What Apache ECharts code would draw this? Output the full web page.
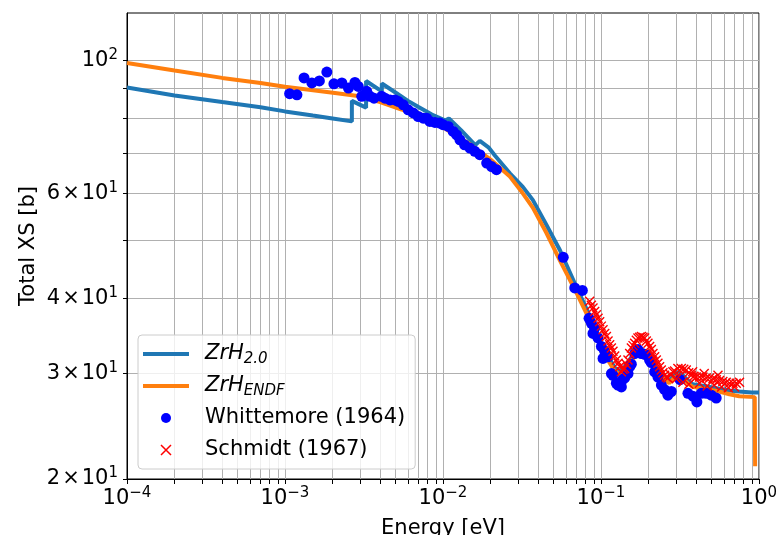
<!DOCTYPE html>
<html><head><meta charset="utf-8">
<script src="https://cdn.jsdelivr.net/npm/echarts@6/dist/echarts.min.js"></script>
<style>html,body{margin:0;padding:0;background:#fff}#c{width:778px;height:535px}</style>
</head><body><div id="c"></div>
<script>
// ---- tick values ----
const xTickValues = [0.0001,0.0002,0.0003,0.0004,0.0005,0.0006,0.0007,0.0008,0.0009,
  0.001,0.002,0.003,0.004,0.005,0.006,0.007,0.008,0.009,
  0.01,0.02,0.03,0.04,0.05,0.06,0.07,0.08,0.09,
  0.1,0.2,0.3,0.4,0.5,0.6,0.7,0.8,0.9,1];
const xLabelValues = [0.0001,0.001,0.01,0.1,1];
const yTickValues = [20,30,40,50,60,70,80,90,100];
const yLabelValues = [20,30,40,60,100];

// ---- series ----
const zrh20 = [[1e-4,90.1],[2e-4,87.4],[4e-4,85.2],[7e-4,83.5],[1e-3,82.2],[1.5e-3,80.9],[2e-3,80.0],[2.65e-3,79.1],[2.65e-3,85.6],[3.26e-3,83.4],[3.26e-3,92.4],[4.1e-3,88.8],[4.1e-3,91.5],[5e-3,88.4],[6e-3,85.6],[7e-3,83.6],[8.5e-3,81.2],[1.03e-2,79.4],[1.09e-2,80.0],[1.3e-2,76.5],[1.6e-2,72.2],[1.71e-2,73.4],[1.94e-2,71.6],[2.13e-2,69.4],[2.65e-2,64.8],[3.2e-2,61.5],[3.7e-2,58.5],[4.5e-2,53.2],[5.5e-2,48.2],[7e-2,41.8],[8.47e-2,37.5],[9.35e-2,35.3],[0.103,33.2],[0.113,31.8],[0.122,30.7],[0.131,30.3],[0.14,30.7],[0.155,31.9],[0.175,33.0],[0.19,32.7],[0.21,31.4],[0.24,30.0],[0.27,29.2],[0.29,29.8],[0.31,30.2],[0.33,29.8],[0.36,29.1],[0.38,28.8],[0.45,28.6],[0.56,28.3],[0.65,28.1],[0.75,28.0],[0.9,27.9],[1.0,27.9]];

const zrhEndf = [[1e-4,99.0],[2e-4,96.2],[4e-4,93.5],[7e-4,91.7],[1e-3,90.4],[2.07e-3,88.2],[2.98e-3,87.1],[4e-3,85.2],[5.47e-3,82.8],[7e-3,80.6],[1e-2,77.3],[1.5e-2,72.3],[2e-2,68.3],[2.65e-2,64.0],[3.2e-2,60.0],[3.7e-2,56.8],[4.5e-2,51.6],[5.48e-2,46.4],[7e-2,40.9],[8.09e-2,37.8],[9.35e-2,34.6],[0.103,32.6],[0.113,31.3],[0.122,30.3],[0.131,29.9],[0.14,30.3],[0.155,31.5],[0.175,32.6],[0.19,32.3],[0.21,31.0],[0.24,29.7],[0.27,28.9],[0.29,29.5],[0.31,29.8],[0.33,29.4],[0.36,28.8],[0.38,28.5],[0.45,28.3],[0.56,28.0],[0.65,27.7],[0.75,27.5],[0.94,27.4],[0.945,21.0]];

const whittemore = [[1.07e-3,88.0],[1.19e-3,87.6],[1.32e-3,93.5],[1.48e-3,91.7],[1.65e-3,92.4],[1.84e-3,95.6],[2.04e-3,91.4],[2.29e-3,91.7],[2.52e-3,89.9],[2.77e-3,91.9],[2.91e-3,90.5],[3.06e-3,87.1],[3.29e-3,88.8],[3.45e-3,87.1],[3.66e-3,86.5],[4.09e-3,87.1],[4.29e-3,86.5],[4.62e-3,85.9],[4.97e-3,85.9],[5.21e-3,85.4],[5.60e-3,84.3],[6.02e-3,82.7],[6.48e-3,81.7],[6.97e-3,80.6],[7.50e-3,80.1],[7.88e-3,80.1],[8.26e-3,79.1],[8.89e-3,78.8],[9.56e-3,78.6],[1.00e-2,78.1],[1.08e-2,77.6],[1.16e-2,76.1],[1.22e-2,75.1],[1.28e-2,73.7],[1.37e-2,72.3],[1.48e-2,71.4],[1.59e-2,70.5],[1.71e-2,69.6],[1.89e-2,67.4],[2.03e-2,66.5],[2.18e-2,65.7],
[5.77e-2,46.9],[6.82e-2,41.7],[7.62e-2,41.3],
[8.40e-2,37.1],[8.70e-2,36.4],[8.9e-2,35.0],[9.12e-2,35.7],[9.57e-2,34.4],[0.1006,33.3],[0.103,31.8],[0.1055,32.7],[0.1107,32.0],[0.1164,30.0],[0.119,29.8],[0.1251,28.9],[0.128,28.7],[0.1346,28.5],[0.137,29.3],[0.1413,29.5],[0.1483,30.0],[0.152,30.8],[0.1556,31.1],[0.1633,32.4],[0.1714,32.9],[0.180,32.4],[0.189,32.3],[0.195,32.2],[0.203,31.6],[0.208,31.3],[0.2185,30.2],[0.2293,29.6],[0.241,28.7],[0.2527,28.2],[0.2652,27.6],[0.2786,28.0],[0.3165,29.3],[0.355,27.8],[0.3815,27.5],[0.4045,26.9],[0.4315,27.8],[0.4637,27.8],[0.499,27.6],[0.536,27.3]];

const schmidt = [[0.0848,39.6],[0.0869,39.0],[0.0890,38.6],[0.0912,38.1],[0.0935,37.6],[0.0958,37.1],[0.0981,36.6],[0.1005,36.0],[0.1030,35.5],[0.1056,35.0],[0.1082,34.6],[0.1108,34.0],[0.1135,33.5],[0.1163,33.1],[0.1191,32.7],[0.1221,32.1],[0.1251,31.6],[0.1282,31.2],[0.1313,30.8],[0.1346,30.2],[0.1378,30.5],[0.1412,30.6],[0.1447,31.1],[0.1482,31.6],[0.1519,32.4],[0.1557,33.1],[0.1595,33.4],[0.1633,33.7],[0.1673,34.1],[0.1714,34.4],[0.1757,34.5],[0.1800,34.6],[0.1844,34.5],[0.1889,34.4],[0.1935,34.0],[0.1982,33.7],[0.2032,33.3],[0.2083,32.9],[0.2133,32.4],[0.2185,32.0],[0.2239,31.6],[0.2293,31.2],[0.2350,30.8],[0.2408,30.4],[0.2467,30.1],[0.2527,29.8],[0.2589,29.6],[0.2652,29.5],[0.2750,29.9],[0.2851,30.2],[0.2923,30.3],[0.3067,30.6],[0.3223,30.6],[0.3340,30.5],[0.3465,30.4],[0.3590,30.1],[0.3727,29.8],[0.3870,29.7],[0.4009,29.6],[0.4200,29.6],[0.4413,29.6],[0.4640,29.5],[0.4865,29.5],[0.5110,29.4],[0.5364,29.3],[0.5630,29.2],[0.5904,29.1],[0.6200,29.0],[0.6510,28.9],[0.6840,28.9],[0.7177,28.9],[0.7527,29.0],
[0.30,29.4],[0.33,29.0],[0.36,28.8],[0.38,30.2],[0.42,28.9],[0.45,30.0],[0.47,28.6],[0.52,28.7],[0.55,29.8],[0.58,28.5],[0.64,28.4],[0.70,28.5]];

const FONT = 'DejaVu Sans';
const chart = echarts.init(document.getElementById('c'), null, {renderer: 'canvas'});
const supRich = {
  b: {fontFamily: FONT, fontSize: 21, color: '#000', lineHeight: 26},
  x: {fontFamily: FONT, fontSize: 21, color: '#000', lineHeight: 26, padding: [0, 2, 0, 2]},
  s: {fontFamily: FONT, fontSize: 15, color: '#000', lineHeight: 15, verticalAlign: 'top'}
};
const legendNames = {
  'ZrH2.0': '{i|ZrH}{sub|2.0}',
  'ZrHENDF': '{i|ZrH}{sub|ENDF}'
};
chart.setOption({
  animation: false,
  backgroundColor: '#fff',
  grid: {left: 127, right: 19, top: 13, bottom: 56, show: true, borderColor: '#000', borderWidth: 1,
    backgroundColor: 'rgba(0,0,0,0)', containLabel: false, outerBoundsMode: 'none'},
  xAxis: {
    type: 'log', logBase: 10, min: 0.0001, max: 1,
    name: 'Energy [eV]', nameLocation: 'middle', nameGap: 39, nameMoveOverlap: false,
    nameTextStyle: {fontFamily: FONT, fontSize: 21, color: '#000'},
    axisLine: {show: true, lineStyle: {color: '#000', width: 1}},
    axisTick: {show: true, inside: false, length: 5, lineStyle: {color: '#000', width: 1}, customValues: xTickValues},
    axisLabel: {customValues: xLabelValues, margin: 7, rich: supRich,
      formatter: function (v) { const e = Math.round(Math.log10(v)); return '{b|10}{s|' + (e < 0 ? '\u2212' + (-e) : e) + '}'; }},
    splitLine: {show: true, lineStyle: {color: '#b0b0b0', width: 1}},
    minorTick: {show: false}, minorSplitLine: {show: false}
  },
  yAxis: {
    type: 'log', logBase: 10, min: 20, max: 120,
    name: 'Total XS [b]', nameLocation: 'middle', nameGap: 88, nameRotate: 90, nameMoveOverlap: false,
    nameTextStyle: {fontFamily: FONT, fontSize: 21, color: '#000'},
    axisLine: {show: true, lineStyle: {color: '#000', width: 1}},
    axisTick: {show: true, inside: false, length: 4, lineStyle: {color: '#000', width: 1}, customValues: yTickValues},
    axisLabel: {customValues: yLabelValues, margin: 9, rich: supRich,
      formatter: function (v) {
        const e = Math.floor(Math.log10(v) + 1e-9); const m = Math.round(v / Math.pow(10, e));
        return m === 1 ? '{b|10}{s|' + e + '}' : '{b|' + m + '}{x|\u00d7}{b|10}{s|' + e + '}';
      }},
    splitLine: {show: true, lineStyle: {color: '#b0b0b0', width: 1}},
    minorTick: {show: false}, minorSplitLine: {show: false}
  },
  legend: {
    orient: 'vertical', left: 138, top: 335,
    padding: [6, 10, 6, 5], itemGap: 6, itemWidth: 46, itemHeight: 10,
    backgroundColor: 'rgba(255,255,255,0.8)', borderColor: '#cccccc', borderWidth: 1, borderRadius: 4,
    textStyle: {fontFamily: FONT, fontSize: 21, color: '#000', lineHeight: 26, padding: [0, 0, 0, 11],
      rich: {
        i: {fontFamily: FONT, fontSize: 21, fontStyle: 'italic', color: '#000', lineHeight: 26},
        sub: {fontFamily: FONT, fontSize: 15, fontStyle: 'italic', color: '#000', lineHeight: 15, verticalAlign: 'bottom'}
      }},
    formatter: function (n) { return legendNames[n] || n; },
    data: [
      {name: 'ZrH2.0', icon: 'path://M0,0H46V4H0Z'},
      {name: 'ZrHENDF', icon: 'path://M0,0H46V4H0Z'},
      {name: 'Whittemore (1964)', icon: 'circle'},
      {name: 'Schmidt (1967)', icon: 'path://M0,0L10,10M10,0L0,10', itemStyle: {color: 'rgba(0,0,0,0)', borderColor: '#ff0000', borderWidth: 1.5}}
    ]
  },
  series: [
    {name: 'ZrH2.0', type: 'line', data: zrh20, showSymbol: false, symbol: 'none', z: 2,
      itemStyle: {color: '#1f77b4'}, lineStyle: {color: '#1f77b4', width: 4}, emphasis: {disabled: true}},
    {name: 'ZrHENDF', type: 'line', data: zrhEndf, showSymbol: false, symbol: 'none', z: 3,
      itemStyle: {color: '#ff7f0e'}, lineStyle: {color: '#ff7f0e', width: 4}, emphasis: {disabled: true}},
    {name: 'Whittemore (1964)', type: 'scatter', data: whittemore, symbol: 'circle', symbolSize: 11, z: 4,
      itemStyle: {color: '#0000ff', opacity: 1}, emphasis: {disabled: true}},
    {name: 'Schmidt (1967)', type: 'scatter', data: schmidt, symbol: 'path://M0,0L10,10M10,0L0,10', symbolSize: 9, z: 5,
      itemStyle: {color: 'rgba(0,0,0,0)', borderColor: '#ff0000', borderWidth: 1.4, opacity: 1}, emphasis: {disabled: true}}
  ]
});
</script>
</body></html>
